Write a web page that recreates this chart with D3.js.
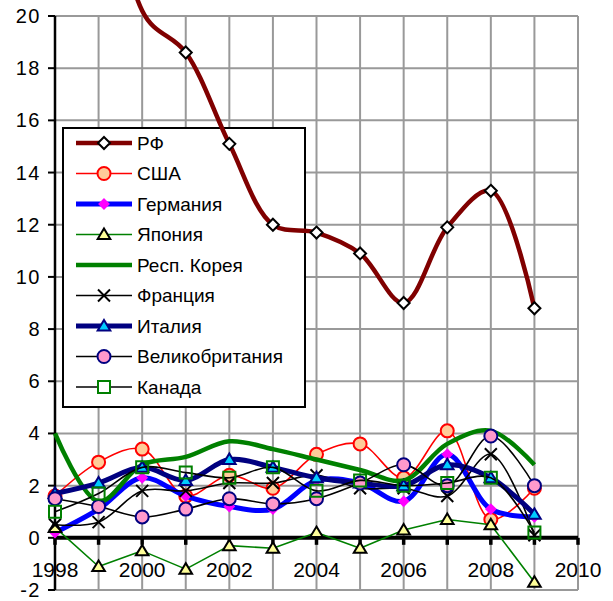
<!DOCTYPE html>
<html lang="ru">
<head>
<meta charset="UTF-8">
<title>Инфляция</title>
<script src="https://cdn.jsdelivr.net/npm/d3@7/dist/d3.min.js"></script>
<style>
  body { margin: 0; background: #fff; }
  svg text { font-family: Arial, "Liberation Sans", sans-serif; fill: #000; }
</style>
</head>
<body>
<svg id="chart" width="613" height="601"></svg>
<script>
// data
var years = [1998, 1999, 2000, 2001, 2002, 2003, 2004, 2005, 2006, 2007, 2008, 2009];
var xTicks = [1998, 2000, 2002, 2004, 2006, 2008, 2010];
var yTicks = [-2, 0, 2, 4, 6, 8, 10, 12, 14, 16, 18, 20];

var rf      = [84.4, 36.5, 20.2, 18.6, 15.1, 12.0, 11.7, 10.9, 9.0, 11.9, 13.3, 8.8];
var usa     = [1.6, 2.9, 3.4, 1.6, 2.4, 1.9, 3.2, 3.6, 2.3, 4.1, 0.7, 1.9];
var germany = [0.2, 1.1, 2.3, 1.6, 1.2, 1.1, 2.2, 2.1, 1.4, 3.2, 1.1, 0.8];
var japan   = [0.4, -1.1, -0.5, -1.2, -0.3, -0.4, 0.2, -0.4, 0.3, 0.7, 0.5, -1.7];
var korea   = [4.0, 1.4, 2.8, 3.1, 3.7, 3.4, 3.0, 2.6, 2.2, 3.6, 4.1, 2.8];
var france  = [0.5, 0.6, 1.8, 1.8, 2.1, 2.1, 2.4, 1.9, 1.9, 1.6, 3.2, 0.1];
var italy   = [1.7, 2.1, 2.7, 2.2, 3.0, 2.7, 2.3, 2.1, 2.0, 2.8, 2.3, 0.9];
var uk      = [1.5, 1.2, 0.8, 1.1, 1.5, 1.3, 1.5, 2.1, 2.8, 2.0, 3.9, 2.0];
var canada  = [1.0, 1.7, 2.7, 2.5, 2.3, 2.7, 1.8, 2.2, 2.0, 2.1, 2.3, 0.2];

var series = [
  {name: "РФ", values: rf, color: "#800000", width: 4.5, smooth: true,
   marker: "diamond", fill: "#fff", mstroke: "#000", size: 6},
  {name: "США", values: usa, color: "#ff0000", width: 1.6, smooth: true,
   marker: "circle", fill: "#ffcc99", mstroke: "#ff0000", size: 6.5},
  {name: "Германия", values: germany, color: "#0000ff", width: 5, smooth: true,
   marker: "diamond", fill: "#ff00ff", mstroke: "#ff00ff", size: 4.5},
  {name: "Япония", values: japan, color: "#008000", width: 1.6, smooth: false,
   marker: "triangle", fill: "#ffff99", mstroke: "#000", size: 6},
  {name: "Респ. Корея", values: korea, color: "#008000", width: 4.5, smooth: true,
   marker: null},
  {name: "Франция", values: france, color: "#000", width: 1.6, smooth: true,
   marker: "x", fill: "none", mstroke: "#000", size: 6},
  {name: "Италия", values: italy, color: "#000080", width: 5, smooth: true,
   marker: "triangle", fill: "#00ccff", mstroke: "#000080", size: 6},
  {name: "Великобритания", values: uk, color: "#000", width: 1.6, smooth: true,
   marker: "circle", fill: "#ff99cc", mstroke: "#000080", size: 6.5},
  {name: "Канада", values: canada, color: "#000", width: 1.6, smooth: true,
   marker: "square", fill: "none", mstroke: "#008000", size: 6}
];

var svg = d3.select("#chart");

var x = d3.scaleLinear().domain([1998, 2010]).range([55, 578]);
var y = d3.scaleLinear().domain([-2, 20]).range([590, 16]);

// grid
var grid = svg.append("g").attr("stroke", "#999").attr("stroke-width", 2);
grid.selectAll(".vg").data(d3.range(1999, 2011)).enter().append("line")
  .attr("x1", d => x(d)).attr("x2", d => x(d))
  .attr("y1", y(20)).attr("y2", y(-2));
grid.selectAll(".hg").data(yTicks).enter().append("line")
  .attr("x1", x(1998)).attr("x2", x(2010))
  .attr("y1", d => y(d)).attr("y2", d => y(d));

// y axis
svg.append("line").attr("x1", x(1998)).attr("x2", x(1998))
  .attr("y1", y(20)).attr("y2", y(-2)).attr("stroke", "#000").attr("stroke-width", 2.5);
svg.selectAll(".yt").data(yTicks).enter().append("line")
  .attr("x1", x(1998) - 7).attr("x2", x(1998))
  .attr("y1", d => y(d)).attr("y2", d => y(d))
  .attr("stroke", "#000").attr("stroke-width", 2);
svg.selectAll(".yl").data(yTicks).enter().append("text")
  .attr("x", 41).attr("y", d => y(d))
  .attr("text-anchor", "end").attr("dominant-baseline", "central")
  .attr("font-size", 20).attr("letter-spacing", 1.5)
  .text(d => d);

// x axis at zero
svg.append("line").attr("x1", x(1998)).attr("x2", x(2010))
  .attr("y1", y(0)).attr("y2", y(0)).attr("stroke", "#000").attr("stroke-width", 4);
svg.selectAll(".xt").data(d3.range(1998, 2011)).enter().append("line")
  .attr("x1", d => x(d)).attr("x2", d => x(d))
  .attr("y1", y(0)).attr("y2", y(0) + 7)
  .attr("stroke", "#000").attr("stroke-width", 3.5);
svg.selectAll(".xl").data(xTicks).enter().append("text")
  .attr("x", d => x(d)).attr("y", 577)
  .attr("text-anchor", "middle").attr("font-size", 21)
  .text(d => d);

function markerPath(type, s) {
  if (type == "diamond") return "M0," + (-s) + "L" + s + ",0L0," + s + "L" + (-s) + ",0Z";
  if (type == "triangle") return "M0," + (-s) + "L" + (s * 1.05) + "," + (s * 0.75) + "L" + (-s * 1.05) + "," + (s * 0.75) + "Z";
  if (type == "square") return "M" + (-s) + "," + (-s) + "h" + (2 * s) + "v" + (2 * s) + "h" + (-2 * s) + "Z";
  if (type == "x") return "M" + (-s) + "," + (-s) + "L" + s + "," + s + "M" + s + "," + (-s) + "L" + (-s) + "," + s;
  return "";
}

function drawMarker(g, s, cx, cy, fillOverride) {
  if (!s.marker) return;
  var fill = fillOverride || s.fill;
  if (s.marker == "circle") {
    g.append("circle").attr("cx", cx).attr("cy", cy).attr("r", s.size)
      .attr("fill", fill).attr("stroke", s.mstroke).attr("stroke-width", 2);
  } else {
    g.append("path").attr("transform", "translate(" + cx + "," + cy + ")")
      .attr("d", markerPath(s.marker, s.size))
      .attr("fill", fill).attr("stroke", s.mstroke).attr("stroke-width", 2);
  }
}

// legend (drawn under the series, the RF line crosses it)
var lg = svg.append("g");
lg.append("rect").attr("x", 63).attr("y", 128).attr("width", 242).attr("height", 279)
  .attr("fill", "#fff").attr("stroke", "#000").attr("stroke-width", 2);
series.forEach(function(s, i) {
  var ly = 143 + i * 30.5;
  lg.append("line").attr("x1", 76).attr("x2", 132).attr("y1", ly).attr("y2", ly)
    .attr("stroke", s.color).attr("stroke-width", s.width);
  drawMarker(lg, s, 104, ly, s.marker == "square" ? "#fff" : null);
  lg.append("text").attr("x", 137).attr("y", ly)
    .attr("dominant-baseline", "central").attr("font-size", 19)
    .text(s.name);
});

// series
series.forEach(function(s) {
  var line = d3.line()
    .x((d, i) => x(years[i]))
    .y(d => y(d))
    .curve(s.smooth ? d3.curveCatmullRom.alpha(0.5) : d3.curveLinear);
  var g = svg.append("g");
  g.append("path").datum(s.values)
    .attr("d", line)
    .attr("fill", "none")
    .attr("stroke", s.color)
    .attr("stroke-width", s.width)
    .attr("stroke-linejoin", "round");
  s.values.forEach(function(v, i) {
    if (v > 20) return;
    drawMarker(g, s, x(years[i]), y(v));
  });
});
</script>
</body>
</html>
